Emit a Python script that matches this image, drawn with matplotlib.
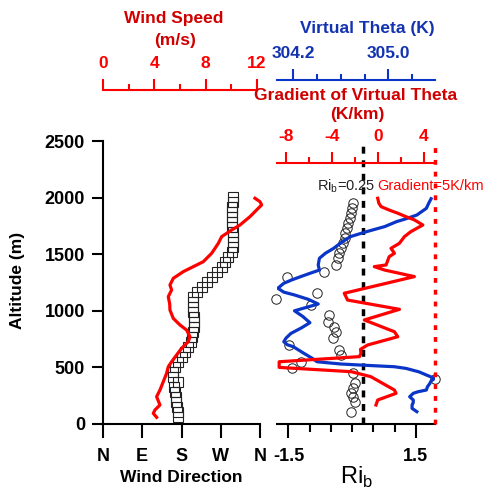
import matplotlib
matplotlib.use("Agg")
import matplotlib.pyplot as plt
from matplotlib.ticker import FixedLocator, FormatStrFormatter

plt.rcParams["font.family"] = ["Liberation Sans", "DejaVu Sans"]
plt.rcParams["font.weight"] = "bold"

# ---- data ----
# wind direction (deg) vs altitude (m)
dir_alt = [64, 109, 153, 197, 241, 285, 330, 374, 418, 462, 506, 550, 595, 639,
           683, 727, 771, 815, 860, 904, 948, 992, 1036, 1080, 1125, 1169, 1214,
           1258, 1302, 1346, 1390, 1434, 1478, 1523, 1567, 1611, 1655, 1700, 1744,
           1788, 1832, 1876, 1920, 1964, 2008]
wind_dir = [171, 171, 170, 168, 167, 165, 162, 172, 161, 161, 165, 172, 180, 188,
            195, 201, 205, 207, 208, 208, 208, 207, 206, 206, 207, 215, 226,
            238, 249, 261, 272, 280, 287, 295, 299, 297, 297, 297, 295,
            295, 295, 295, 295, 297, 299]

# wind speed (m/s) vs altitude (m)
spd_alt = [59, 94, 124, 168, 241, 300, 374, 448, 506, 550, 610, 669, 727, 771,
           830, 875, 933, 1007, 1060, 1125, 1184, 1228, 1287, 1346, 1390, 1434,
           1508, 1596, 1655, 1714, 1758, 1832, 1905, 1935, 1964, 1994]
wind_spd = [4.18, 3.92, 4.05, 4.44, 4.18, 4.44, 4.7, 4.96, 5.09, 5.35, 5.74, 6.13,
            6.65, 6.78, 6.52, 6.0, 5.48, 5.22, 5.2, 5.09, 5.35, 5.22, 5.48, 6.26,
            7.04, 7.82, 8.47, 8.99, 9.25, 10.03, 10.68, 11.46, 12.1, 12.37, 12.24,
            11.85]

# virtual potential temperature (K)
th_alt = [1990, 1950, 1905, 1846, 1810, 1788, 1744, 1700, 1655, 1600, 1552, 1508,
          1464, 1405, 1360, 1331, 1301, 1270, 1243, 1199, 1165, 1140, 1100, 1060,
          1000, 950, 895, 850, 800, 760, 727, 700, 683, 650, 624, 580, 550, 530,
          521, 506, 491, 460, 433, 403, 380, 359, 330, 300, 285, 271, 241, 212,
          190, 168, 138, 109]
theta_v = [305.36, 305.34, 305.32, 305.24, 305.14, 305.07, 304.97, 304.82, 304.68,
           304.60, 304.54, 304.47, 304.42, 304.41, 304.42, 304.34, 304.26, 304.18,
           304.12, 304.07, 304.12, 304.21, 304.33, 304.41, 304.21, 304.28, 304.34,
           304.27, 304.18, 304.14, 304.12, 304.15, 304.20, 304.25, 304.29, 304.36,
           304.40, 304.60, 304.76, 305.05, 305.15, 305.26, 305.32, 305.39, 305.36,
           305.35, 305.33, 305.32, 305.25, 305.21, 305.18, 305.21, 305.21, 305.20,
           305.20, 305.24]

# gradient of virtual theta (K/km)
gr_alt = [1994, 1950, 1920, 1890, 1862, 1830, 1803, 1758, 1700, 1655, 1597, 1552,
          1508, 1478, 1405, 1390, 1360, 1302, 1155, 1095, 1013, 919, 815, 771, 698,
          660, 624, 595, 550, 500, 462, 418, 300, 271, 212, 168]
grad_thv = [0.0, 0.1, 0.3, 1.0, 1.75, 2.5, 3.2, 3.94, 2.9, 2.33, 1.9, 1.16, 1.46,
            1.0, 0.73, -0.3, 0.6, 3.2, -2.92, -2.63, 1.9, -1.17, 1.46, 1.75, -0.88,
            -1.5, -1.46, -1.6, -8.6, -8.6, -2.3, -0.6, 1.46, 1.6, 0.0, -0.15]

# bulk Richardson number
ri_alt = [1950, 1905, 1862, 1817, 1773, 1729, 1685, 1641, 1596, 1552, 1508, 1464,
          1405, 1346, 1302, 1155, 1101, 1051, 963, 904, 860, 815, 756, 698, 654,
          609, 551, 492, 453, 395, 359, 315, 271, 241, 197, 109]
ri_b = [0.015, -0.01, -0.03, -0.06, -0.09, -0.12, -0.16, -0.18, -0.21, -0.26, -0.30,
        -0.34, -0.38, -0.66, -1.53, -0.82, -1.79, -0.97, -0.54, -0.58, -0.42, -0.38,
        -0.46, -1.49, -0.30, -0.26, -1.21, -1.41, 0.015, 1.955, 0.055, 0.015, -0.02,
        0.015, 0.055, -0.02]

dir_ticks = [0, 90, 180, 270, 360]
dir_labels = ["N", "E", "S", "W", "N"]
alt_ticks = [0, 500, 1000, 1500, 2000, 2500]
ri_crit = 0.25
grad_crit = 5

RED = "#ff0000"
BLUE = "#0a35c8"
TRED = "#d00000"
TBLUE = "#1433b0"

W, H = 483, 491
fig = plt.figure(figsize=(W / 100, H / 100), dpi=100)


def box(x0, y0, x1, y1):
    return [x0 / W, 1 - y1 / H, (x1 - x0) / W, (y1 - y0) / H]


def ptext(x, y, s, **kw):
    fig.text(x / W, 1 - y / H, s, ha="center", va="center", **kw)


def top_axis(ax, pos, color, lim, major, minor, fmt):
    for s in ("left", "right", "bottom"):
        ax.spines[s].set_visible(False)
    ax.spines["top"].set_position(("axes", pos))
    ax.spines["top"].set_color(color)
    ax.spines["top"].set_linewidth(1.5)
    ax.set_xlim(*lim)
    ax.xaxis.set_major_locator(FixedLocator(major))
    ax.xaxis.set_minor_locator(FixedLocator(minor))
    ax.xaxis.set_major_formatter(FormatStrFormatter(fmt))
    ax.tick_params(axis="x", which="both", direction="out", color=color,
                   labelcolor=color, width=1.5, labelsize=12.5, pad=6)
    ax.tick_params(axis="x", which="major", length=8)
    ax.tick_params(axis="x", which="minor", length=4)
    ax.tick_params(axis="y", left=False, labelleft=False)


AX_TOP, AX_BOT = 141, 424
ax1 = fig.add_axes(box(103, AX_TOP, 260, AX_BOT))
ax2 = fig.add_axes(box(277, AX_TOP, 435, AX_BOT))

# ---- left panel: wind direction + speed ----
ax1.plot(wind_dir, dir_alt, "s", mfc="none", mec="#222222", ms=7.3, mew=0.8)
ax1.set_xlim(0, 360)
ax1.set_ylim(0, 2500)
ax1.set_xticks(dir_ticks, dir_labels)
ax1.set_yticks(alt_ticks)
for s in ("top", "right"):
    ax1.spines[s].set_visible(False)
for s in ("left", "bottom"):
    ax1.spines[s].set_linewidth(1.5)
ax1.tick_params(axis="x", direction="out", length=10, width=1.5, labelsize=13, pad=7)
ax1.tick_params(axis="y", direction="out", length=8, width=1.5, labelsize=13, pad=5)

ax1s = ax1.twiny()
ax1s.plot(wind_spd, spd_alt, color=RED, lw=2.3, clip_on=False)
top_axis(ax1s, (AX_BOT - 90) / (AX_BOT - AX_TOP), RED, (0, 12.24),
         [0, 4, 8, 12], [2, 6, 10], "%g")
ax1s.spines["top"].set_bounds(0, 12)

# ---- right panel: Ri_b, theta_v, gradient ----
ax2.set_zorder(3)
ax2.patch.set_visible(False)
ax2.plot(ri_b, ri_alt, "o", mfc="none", mec="#222222", ms=6.8, mew=0.7, clip_on=False)
ax2.axvline(ri_crit, color="black", lw=2.5, dashes=(2, 1.9))
ax2.set_xlim(-1.77, 1.95)
ax2.set_ylim(0, 2500)
for s in ("top", "right", "left"):
    ax2.spines[s].set_visible(False)
ax2.spines["bottom"].set_linewidth(1.5)
ax2.xaxis.set_major_locator(FixedLocator([-1.5, 1.5]))
ax2.xaxis.set_minor_locator(FixedLocator([-1.0, -0.5, 0.0, 0.5, 1.0]))
ax2.xaxis.set_major_formatter(FormatStrFormatter("%.1f"))
ax2.tick_params(axis="x", which="both", direction="out", width=1.5, labelsize=13, pad=7)
ax2.tick_params(axis="x", which="major", length=10)
ax2.tick_params(axis="x", which="minor", length=6)
ax2.tick_params(axis="y", left=False, labelleft=False)
ax2.text(0.54, 2100, "Ri$_\\mathregular{b}$=0.25", ha="right", va="center",
         fontsize=10.5, fontweight="normal", color="#222222")

ax2t = ax2.twiny()
ax2t.plot(theta_v, th_alt, color=BLUE, lw=2.3)
top_axis(ax2t, (AX_BOT - 80) / (AX_BOT - AX_TOP), BLUE, (304.063, 305.393),
         [304.2, 305.0], [304.4, 304.6, 304.8, 305.2], "%.1f")
ax2t.tick_params(axis="x", labelcolor=TBLUE)

ax2g = ax2.twiny()
ax2g.plot(grad_thv, gr_alt, color=RED, lw=2.3)
ax2g.axvline(grad_crit, color=RED, lw=2.5, dashes=(1.4, 2.0), clip_on=False)
top_axis(ax2g, (AX_BOT - 163) / (AX_BOT - AX_TOP), RED, (-8.79, 5.0),
         [-8, -4, 0, 4], [-6, -2, 2], "%g")
ax2g.text(0.0, 2100, "Gradient=5K/km", ha="left", va="center", fontsize=10.5,
          fontweight="normal", color=RED)

# ---- axis titles ----
ptext(174, 18, "Wind Speed", color=TRED, fontsize=12.5)
ptext(175, 40, "(m/s)", color=TRED, fontsize=12.5)
ptext(367, 29, "Virtual Theta (K)", color=TBLUE, fontsize=12.5)
ptext(356, 95, "Gradient of Virtual Theta", color=TRED, fontsize=12.5)
ptext(357, 115, "(K/km)", color=TRED, fontsize=12.5)
ptext(181, 477, "Wind Direction", fontsize=12.5)
ptext(357, 477, "Ri$_\\mathregular{b}$", fontsize=17, fontweight="normal")
ptext(18, 280, "Altitude (m)", fontsize=12.5, rotation=90)

fig.savefig("out.png", dpi=100)
